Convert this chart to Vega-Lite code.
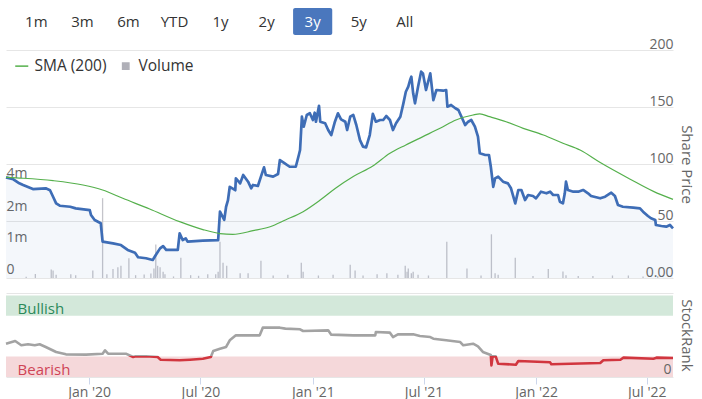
{
  "$schema": "https://vega.github.io/schema/vega-lite/v6.json",
  "padding": {"left": 3, "top": 8, "right": 32, "bottom": 0},
  "autosize": {"type": "pad"},
  "background": "white",
  "bounds": "flush",
  "spacing": 15,
  "resolve": {"scale": {"color": "independent", "x": "independent", "y": "independent"}},
  "config": {"view": {"stroke": null}, "font": "Open Sans"},
  "datasets": {
    "buttons": [
      {"label": "1m", "state": "off"}, {"label": "3m", "state": "off"}, {"label": "6m", "state": "off"},
      {"label": "YTD", "state": "off"}, {"label": "1y", "state": "off"}, {"label": "2y", "state": "off"},
      {"label": "3y", "state": "on"}, {"label": "5y", "state": "off"}, {"label": "All", "state": "off"}
    ],
    "pricedata": [
      {"date": "2019-08-18", "price": 88.3}, {"date": "2019-08-30", "price": 86.6}, {"date": "2019-09-07", "price": 83.6},
      {"date": "2019-09-15", "price": 81.6}, {"date": "2019-10-01", "price": 78.0}, {"date": "2019-10-22", "price": 78.7},
      {"date": "2019-10-29", "price": 77.0}, {"date": "2019-11-03", "price": 71.3}, {"date": "2019-11-08", "price": 65.5},
      {"date": "2019-11-14", "price": 63.4}, {"date": "2019-12-01", "price": 62.5}, {"date": "2019-12-10", "price": 61.1},
      {"date": "2020-01-02", "price": 59.6}, {"date": "2020-01-04", "price": 55.3}, {"date": "2020-01-10", "price": 50.9},
      {"date": "2020-01-20", "price": 48.0}, {"date": "2020-01-23", "price": 31.9}, {"date": "2020-02-09", "price": 30.4},
      {"date": "2020-02-22", "price": 28.9}, {"date": "2020-03-04", "price": 24.6}, {"date": "2020-03-16", "price": 22.2},
      {"date": "2020-03-21", "price": 18.2}, {"date": "2020-04-03", "price": 17.3}, {"date": "2020-04-14", "price": 15.8},
      {"date": "2020-04-19", "price": 20.2}, {"date": "2020-04-26", "price": 26.0}, {"date": "2020-05-01", "price": 28.0},
      {"date": "2020-05-06", "price": 24.6}, {"date": "2020-05-25", "price": 24.6}, {"date": "2020-05-28", "price": 39.2},
      {"date": "2020-06-02", "price": 33.3}, {"date": "2020-06-07", "price": 34.8}, {"date": "2020-06-10", "price": 31.9},
      {"date": "2020-07-05", "price": 32.7}, {"date": "2020-07-30", "price": 33.3}, {"date": "2020-08-02", "price": 58.2},
      {"date": "2020-08-09", "price": 51.0}, {"date": "2020-08-12", "price": 62.5}, {"date": "2020-08-15", "price": 68.0},
      {"date": "2020-08-18", "price": 80.0}, {"date": "2020-08-27", "price": 77.0}, {"date": "2020-08-28", "price": 87.4},
      {"date": "2020-09-04", "price": 83.0}, {"date": "2020-09-09", "price": 90.4}, {"date": "2020-09-17", "price": 84.5},
      {"date": "2020-09-22", "price": 78.7}, {"date": "2020-09-25", "price": 81.6}, {"date": "2020-10-03", "price": 80.7},
      {"date": "2020-10-08", "price": 88.9}, {"date": "2020-10-13", "price": 97.1}, {"date": "2020-10-16", "price": 90.4},
      {"date": "2020-10-28", "price": 88.9}, {"date": "2020-11-05", "price": 91.2}, {"date": "2020-11-08", "price": 103.5},
      {"date": "2020-11-16", "price": 100.6}, {"date": "2020-11-24", "price": 97.6}, {"date": "2020-12-04", "price": 97.6},
      {"date": "2020-12-09", "price": 107.9}, {"date": "2020-12-11", "price": 112.3}, {"date": "2020-12-14", "price": 141.5},
      {"date": "2020-12-17", "price": 132.7}, {"date": "2020-12-22", "price": 143.0}, {"date": "2020-12-27", "price": 144.5},
      {"date": "2021-01-01", "price": 138.6}, {"date": "2021-01-04", "price": 145.0}, {"date": "2021-01-06", "price": 137.1},
      {"date": "2021-01-11", "price": 151.1}, {"date": "2021-01-13", "price": 137.1}, {"date": "2021-01-21", "price": 135.7},
      {"date": "2021-01-26", "price": 129.8}, {"date": "2021-01-31", "price": 125.4}, {"date": "2021-02-06", "price": 137.1},
      {"date": "2021-02-11", "price": 144.5}, {"date": "2021-02-16", "price": 139.2}, {"date": "2021-02-23", "price": 137.1},
      {"date": "2021-02-26", "price": 129.8}, {"date": "2021-03-03", "price": 141.5}, {"date": "2021-03-08", "price": 143.0},
      {"date": "2021-03-13", "price": 134.2}, {"date": "2021-03-19", "price": 121.0}, {"date": "2021-03-24", "price": 115.2},
      {"date": "2021-03-29", "price": 114.6}, {"date": "2021-04-04", "price": 125.4}, {"date": "2021-04-09", "price": 144.0},
      {"date": "2021-04-14", "price": 137.1}, {"date": "2021-04-21", "price": 138.6}, {"date": "2021-04-26", "price": 138.6},
      {"date": "2021-05-01", "price": 142.1}, {"date": "2021-05-07", "price": 138.6}, {"date": "2021-05-12", "price": 129.8},
      {"date": "2021-05-17", "price": 135.7}, {"date": "2021-05-24", "price": 141.5}, {"date": "2021-05-29", "price": 153.2},
      {"date": "2021-06-02", "price": 163.4}, {"date": "2021-06-06", "price": 167.8}, {"date": "2021-06-09", "price": 173.7},
      {"date": "2021-06-11", "price": 176.6}, {"date": "2021-06-14", "price": 162.0}, {"date": "2021-06-17", "price": 153.2},
      {"date": "2021-06-22", "price": 167.8}, {"date": "2021-06-27", "price": 181.0}, {"date": "2021-06-30", "price": 179.5},
      {"date": "2021-07-05", "price": 164.9}, {"date": "2021-07-12", "price": 179.5}, {"date": "2021-07-17", "price": 156.1},
      {"date": "2021-07-22", "price": 164.9}, {"date": "2021-08-02", "price": 164.3}, {"date": "2021-08-07", "price": 164.9},
      {"date": "2021-08-09", "price": 150.3}, {"date": "2021-08-15", "price": 151.8}, {"date": "2021-08-22", "price": 148.9},
      {"date": "2021-08-27", "price": 147.4}, {"date": "2021-09-01", "price": 141.5}, {"date": "2021-09-07", "price": 134.2},
      {"date": "2021-09-12", "price": 137.1}, {"date": "2021-09-17", "price": 138.6}, {"date": "2021-09-23", "price": 132.7},
      {"date": "2021-09-28", "price": 124.0}, {"date": "2021-10-01", "price": 109.4}, {"date": "2021-10-10", "price": 107.9},
      {"date": "2021-10-16", "price": 107.9}, {"date": "2021-10-19", "price": 97.6}, {"date": "2021-10-23", "price": 80.0},
      {"date": "2021-10-26", "price": 87.4}, {"date": "2021-10-31", "price": 88.9}, {"date": "2021-11-08", "price": 84.5},
      {"date": "2021-11-16", "price": 83.0}, {"date": "2021-11-21", "price": 78.7}, {"date": "2021-11-28", "price": 65.5},
      {"date": "2021-12-03", "price": 77.2}, {"date": "2021-12-08", "price": 77.2}, {"date": "2021-12-14", "price": 68.4},
      {"date": "2021-12-19", "price": 72.8}, {"date": "2021-12-27", "price": 71.9}, {"date": "2022-01-01", "price": 69.9},
      {"date": "2022-01-09", "price": 75.7}, {"date": "2022-01-18", "price": 74.3}, {"date": "2022-01-24", "price": 75.7},
      {"date": "2022-01-29", "price": 72.8}, {"date": "2022-02-06", "price": 72.8}, {"date": "2022-02-09", "price": 66.9},
      {"date": "2022-02-14", "price": 65.5}, {"date": "2022-02-17", "price": 74.3}, {"date": "2022-02-19", "price": 84.5},
      {"date": "2022-02-22", "price": 77.2}, {"date": "2022-03-03", "price": 75.7}, {"date": "2022-03-11", "price": 75.7},
      {"date": "2022-03-19", "price": 77.2}, {"date": "2022-03-27", "price": 74.3}, {"date": "2022-04-01", "price": 71.9},
      {"date": "2022-04-16", "price": 69.9}, {"date": "2022-04-24", "price": 71.3}, {"date": "2022-05-04", "price": 74.8},
      {"date": "2022-05-10", "price": 71.9}, {"date": "2022-05-15", "price": 64.0}, {"date": "2022-05-23", "price": 62.5},
      {"date": "2022-06-09", "price": 61.7}, {"date": "2022-06-20", "price": 61.1}, {"date": "2022-06-25", "price": 58.2},
      {"date": "2022-07-03", "price": 54.4}, {"date": "2022-07-08", "price": 52.4}, {"date": "2022-07-15", "price": 50.9},
      {"date": "2022-07-16", "price": 46.5}, {"date": "2022-07-25", "price": 45.6}, {"date": "2022-08-02", "price": 45.0},
      {"date": "2022-08-08", "price": 46.5}, {"date": "2022-08-13", "price": 43.6}
    ],
    "smadata": [
      {"date": "2019-08-18", "sma": 88.3, "series": "SMA (200)"}, {"date": "2019-09-15", "sma": 87.5, "series": "SMA (200)"},
      {"date": "2019-11-03", "sma": 85.4, "series": "SMA (200)"}, {"date": "2019-12-22", "sma": 81.6, "series": "SMA (200)"},
      {"date": "2020-01-23", "sma": 77.2, "series": "SMA (200)"}, {"date": "2020-02-25", "sma": 69.9, "series": "SMA (200)"},
      {"date": "2020-04-09", "sma": 60.5, "series": "SMA (200)"}, {"date": "2020-05-28", "sma": 49.4, "series": "SMA (200)"},
      {"date": "2020-07-05", "sma": 42.5, "series": "SMA (200)"}, {"date": "2020-08-02", "sma": 39.0, "series": "SMA (200)"},
      {"date": "2020-08-23", "sma": 38.3, "series": "SMA (200)"}, {"date": "2020-09-25", "sma": 41.5, "series": "SMA (200)"},
      {"date": "2020-10-23", "sma": 45.0, "series": "SMA (200)"}, {"date": "2020-11-17", "sma": 50.9, "series": "SMA (200)"},
      {"date": "2020-12-16", "sma": 58.2, "series": "SMA (200)"}, {"date": "2021-01-13", "sma": 68.4, "series": "SMA (200)"},
      {"date": "2021-02-07", "sma": 78.7, "series": "SMA (200)"}, {"date": "2021-03-08", "sma": 89.0, "series": "SMA (200)"},
      {"date": "2021-04-09", "sma": 98.2, "series": "SMA (200)"}, {"date": "2021-05-07", "sma": 109.4, "series": "SMA (200)"},
      {"date": "2021-06-02", "sma": 116.7, "series": "SMA (200)"}, {"date": "2021-06-30", "sma": 124.0, "series": "SMA (200)"},
      {"date": "2021-07-28", "sma": 131.3, "series": "SMA (200)"}, {"date": "2021-08-23", "sma": 138.6, "series": "SMA (200)"},
      {"date": "2021-09-20", "sma": 143.0, "series": "SMA (200)"}, {"date": "2021-10-01", "sma": 143.9, "series": "SMA (200)"},
      {"date": "2021-10-17", "sma": 141.5, "series": "SMA (200)"}, {"date": "2021-11-13", "sma": 137.1, "series": "SMA (200)"},
      {"date": "2021-12-11", "sma": 131.3, "series": "SMA (200)"}, {"date": "2022-01-13", "sma": 125.4, "series": "SMA (200)"},
      {"date": "2022-02-14", "sma": 118.2, "series": "SMA (200)"}, {"date": "2022-03-14", "sma": 112.3, "series": "SMA (200)"},
      {"date": "2022-04-16", "sma": 101.3, "series": "SMA (200)"}, {"date": "2022-06-04", "sma": 86.7, "series": "SMA (200)"},
      {"date": "2022-07-12", "sma": 76.0, "series": "SMA (200)"}, {"date": "2022-08-13", "sma": 69.0, "series": "SMA (200)"}
    ],
    "volumedata": [
      {"date": "2019-09-20", "volume": 40000}, {"date": "2019-10-05", "volume": 130000}, {"date": "2019-10-31", "volume": 270000},
      {"date": "2019-11-03", "volume": 240000}, {"date": "2019-11-08", "volume": 100000}, {"date": "2019-12-02", "volume": 120000},
      {"date": "2019-12-10", "volume": 90000}, {"date": "2020-01-07", "volume": 240000}, {"date": "2020-01-23", "volume": 3050000},
      {"date": "2020-01-30", "volume": 120000}, {"date": "2020-02-09", "volume": 290000}, {"date": "2020-02-17", "volume": 340000},
      {"date": "2020-02-22", "volume": 390000}, {"date": "2020-03-06", "volume": 630000}, {"date": "2020-03-17", "volume": 90000},
      {"date": "2020-03-31", "volume": 110000}, {"date": "2020-04-11", "volume": 140000}, {"date": "2020-04-16", "volume": 300000},
      {"date": "2020-04-19", "volume": 1070000}, {"date": "2020-04-22", "volume": 390000}, {"date": "2020-04-26", "volume": 340000},
      {"date": "2020-05-01", "volume": 200000}, {"date": "2020-05-04", "volume": 120000}, {"date": "2020-05-18", "volume": 50000},
      {"date": "2020-05-30", "volume": 650000}, {"date": "2020-06-15", "volume": 90000}, {"date": "2020-06-28", "volume": 70000},
      {"date": "2020-07-13", "volume": 120000}, {"date": "2020-07-26", "volume": 120000}, {"date": "2020-07-30", "volume": 200000},
      {"date": "2020-08-02", "volume": 1160000}, {"date": "2020-08-07", "volume": 490000}, {"date": "2020-08-13", "volume": 390000},
      {"date": "2020-09-04", "volume": 150000}, {"date": "2020-09-17", "volume": 150000}, {"date": "2020-10-08", "volume": 550000},
      {"date": "2020-10-28", "volume": 80000}, {"date": "2020-11-21", "volume": 100000}, {"date": "2020-12-13", "volume": 490000},
      {"date": "2020-12-16", "volume": 200000}, {"date": "2021-01-10", "volume": 80000}, {"date": "2021-02-03", "volume": 100000},
      {"date": "2021-03-03", "volume": 420000}, {"date": "2021-03-11", "volume": 240000}, {"date": "2021-03-24", "volume": 80000},
      {"date": "2021-04-16", "volume": 120000}, {"date": "2021-05-02", "volume": 150000}, {"date": "2021-05-20", "volume": 100000},
      {"date": "2021-06-01", "volume": 390000}, {"date": "2021-06-04", "volume": 200000}, {"date": "2021-06-06", "volume": 300000},
      {"date": "2021-06-11", "volume": 150000}, {"date": "2021-06-14", "volume": 200000}, {"date": "2021-06-22", "volume": 100000},
      {"date": "2021-07-09", "volume": 80000}, {"date": "2021-08-08", "volume": 1160000}, {"date": "2021-09-10", "volume": 300000},
      {"date": "2021-10-03", "volume": 80000}, {"date": "2021-10-20", "volume": 1400000}, {"date": "2021-10-26", "volume": 150000},
      {"date": "2021-10-31", "volume": 100000}, {"date": "2021-11-28", "volume": 650000}, {"date": "2021-12-27", "volume": 60000},
      {"date": "2022-01-21", "volume": 290000}, {"date": "2022-02-14", "volume": 210000}, {"date": "2022-02-19", "volume": 90000},
      {"date": "2022-03-11", "volume": 60000}, {"date": "2022-04-04", "volume": 60000}, {"date": "2022-05-06", "volume": 80000},
      {"date": "2022-06-01", "volume": 80000}, {"date": "2022-06-25", "volume": 50000}, {"date": "2022-07-19", "volume": 60000}
    ],
    "rankdata": [
      {"date": "2019-08-18", "rank": 40.8}, {"date": "2019-09-02", "rank": 44.1}, {"date": "2019-09-12", "rank": 38.9},
      {"date": "2019-09-23", "rank": 40.1}, {"date": "2019-10-04", "rank": 38.9}, {"date": "2019-10-12", "rank": 40.1},
      {"date": "2019-10-22", "rank": 36.8}, {"date": "2019-11-08", "rank": 30.7}, {"date": "2019-11-24", "rank": 27.8},
      {"date": "2019-12-27", "rank": 27.4}, {"date": "2020-01-23", "rank": 28.6}, {"date": "2020-01-27", "rank": 32.7},
      {"date": "2020-02-01", "rank": 28.6}, {"date": "2020-03-01", "rank": 28.6}, {"date": "2020-03-13", "rank": 24.5},
      {"date": "2020-03-17", "rank": 25.3}, {"date": "2020-04-03", "rank": 25.5}, {"date": "2020-04-22", "rank": 24.5},
      {"date": "2020-04-27", "rank": 21.2}, {"date": "2020-05-28", "rank": 20.5}, {"date": "2020-06-14", "rank": 21.2},
      {"date": "2020-07-05", "rank": 22.4}, {"date": "2020-07-18", "rank": 24.5}, {"date": "2020-07-22", "rank": 31.9},
      {"date": "2020-08-02", "rank": 34.7}, {"date": "2020-08-12", "rank": 36.8}, {"date": "2020-08-18", "rank": 45.0},
      {"date": "2020-08-28", "rank": 51.1}, {"date": "2020-10-06", "rank": 51.1}, {"date": "2020-10-11", "rank": 60.5},
      {"date": "2020-11-08", "rank": 60.5}, {"date": "2020-11-17", "rank": 59.3}, {"date": "2020-12-11", "rank": 58.5},
      {"date": "2020-12-16", "rank": 56.4}, {"date": "2021-01-26", "rank": 57.2}, {"date": "2021-01-31", "rank": 51.9},
      {"date": "2021-03-08", "rank": 51.1}, {"date": "2021-04-13", "rank": 51.1}, {"date": "2021-04-14", "rank": 55.2},
      {"date": "2021-05-07", "rank": 54.4}, {"date": "2021-05-12", "rank": 49.0}, {"date": "2021-05-20", "rank": 52.3},
      {"date": "2021-06-14", "rank": 52.3}, {"date": "2021-06-25", "rank": 50.3}, {"date": "2021-07-12", "rank": 49.0},
      {"date": "2021-07-17", "rank": 47.0}, {"date": "2021-08-07", "rank": 45.0}, {"date": "2021-08-30", "rank": 42.9},
      {"date": "2021-09-04", "rank": 38.9}, {"date": "2021-09-20", "rank": 40.8}, {"date": "2021-09-28", "rank": 37.6},
      {"date": "2021-10-06", "rank": 30.7}, {"date": "2021-10-19", "rank": 27.0}, {"date": "2021-10-20", "rank": 14.3},
      {"date": "2021-10-22", "rank": 25.5}, {"date": "2021-10-27", "rank": 25.3}, {"date": "2021-10-31", "rank": 16.3},
      {"date": "2021-11-29", "rank": 15.1}, {"date": "2021-12-03", "rank": 19.6}, {"date": "2022-01-24", "rank": 18.0},
      {"date": "2022-01-26", "rank": 15.6}, {"date": "2022-04-16", "rank": 17.2}, {"date": "2022-04-21", "rank": 20.5},
      {"date": "2022-05-19", "rank": 21.2}, {"date": "2022-05-24", "rank": 23.7}, {"date": "2022-07-12", "rank": 22.4},
      {"date": "2022-07-17", "rank": 23.7}, {"date": "2022-08-13", "rank": 23.3}
    ],
    "bands": [
      {"zone": "Bullish", "lo": 75, "hi": 100},
      {"zone": "Bearish", "lo": 0, "hi": 25}
    ]
  },
  "vconcat": [
    {
      "width": 667,
      "height": 27,
      "data": {"name": "buttons"},
      "layer": [
        {
          "transform": [{"filter": "datum.state === 'on'"}],
          "mark": {"type": "rect", "cornerRadius": 2, "color": "#4a77bd"},
          "encoding": {
            "x": {"field": "label", "type": "nominal", "sort": null, "axis": null,
                  "scale": {"type": "band", "domain": ["1m", "3m", "6m", "YTD", "1y", "2y", "3y", "5y", "All"], "range": [7.3, 421.8], "paddingInner": 0.15, "paddingOuter": 0.075}}
          }
        },
        {
          "mark": {"type": "text", "font": "Open Sans", "fontSize": 15},
          "encoding": {
            "x": {"field": "label", "type": "nominal", "sort": null, "axis": null,
                  "scale": {"type": "band", "domain": ["1m", "3m", "6m", "YTD", "1y", "2y", "3y", "5y", "All"], "range": [7.3, 421.8], "paddingInner": 0.15, "paddingOuter": 0.075}},
            "text": {"field": "label"},
            "color": {"field": "state", "type": "nominal", "scale": {"domain": ["off", "on"], "range": ["#333333", "#ffffff"]}, "legend": null}
          }
        }
      ]
    },
    {
      "width": 667,
      "height": 228,
      "layer": [
        {
          "data": {"name": "volumedata"},
          "mark": {"type": "bar", "color": "#c4c4ca", "width": 1.3},
          "encoding": {
            "x": {"field": "date", "type": "temporal", "axis": null,
                  "scale": {"type": "utc", "domain": [{"year": 2019, "month": 8, "date": 18, "utc": true}, {"year": 2022, "month": 8, "date": 13, "utc": true}], "nice": false, "padding": 0}},
            "y": {"field": "volume", "type": "quantitative",
                  "scale": {"domain": [0, 1000000, 2000000, 4000000], "range": [228, 196.7, 165.7, 132.3], "nice": false, "zero": true},
                  "axis": {"orient": "left", "values": [0, 1000000, 2000000, 4000000],
                           "labelExpr": "datum.value === 0 ? '0' : (datum.value / 1000000) + 'm'",
                           "title": null, "grid": false, "domain": false, "ticks": false, "tickSize": 0,
                           "labelAlign": "left", "labelPadding": 0, "labelBaseline": "alphabetic", "labelOffset": -5,
                           "labelFont": "Open Sans", "labelFontSize": 14, "labelColor": "#666666"}}
          }
        },
        {
          "data": {"name": "pricedata"},
          "mark": {"type": "area", "color": "#4070b8", "opacity": 0.06},
          "encoding": {
            "x": {"field": "date", "type": "temporal", "axis": null},
            "y": {"field": "price", "type": "quantitative", "stack": null,
                  "scale": {"domain": [0, 200], "nice": false},
                  "axis": {"orient": "right", "values": [0, 50, 100, 150, 200],
                           "labelExpr": "datum.value === 0 ? '0.00' : datum.label",
                           "title": "Share Price", "grid": true, "gridColor": "#e6e6e6", "domain": false,
                           "ticks": false, "tickSize": 0, "labelAlign": "right", "labelPadding": 0,
                           "labelBaseline": "alphabetic", "labelOffset": -2,
                           "labelFont": "Open Sans", "labelFontSize": 14, "labelColor": "#666666",
                           "titleFont": "Open Sans", "titleFontSize": 15, "titleFontWeight": "normal",
                           "titleColor": "#666666", "titlePadding": 5}}
          }
        },
        {
          "data": {"name": "pricedata"},
          "mark": {"type": "line", "color": "#3e6db6", "strokeWidth": 2.7, "strokeJoin": "round"},
          "encoding": {
            "x": {"field": "date", "type": "temporal", "axis": null},
            "y": {"field": "price", "type": "quantitative", "scale": {"domain": [0, 200], "nice": false}, "axis": null}
          }
        },
        {
          "data": {"name": "smadata"},
          "mark": {"type": "line", "strokeWidth": 1.2, "interpolate": "monotone"},
          "encoding": {
            "x": {"field": "date", "type": "temporal", "axis": null},
            "y": {"field": "sma", "type": "quantitative", "scale": {"domain": [0, 200], "nice": false}, "axis": null},
            "color": {"field": "series", "type": "nominal",
                      "scale": {"domain": ["SMA (200)", "Volume"], "range": ["#55b04c", "#b0b0b8"]},
                      "legend": {"orient": "top-left", "direction": "horizontal", "offset": 8, "title": null, "padding": 0,
                                 "labelFont": "Open Sans", "labelFontSize": 15.5, "labelColor": "#333333",
                                 "columnPadding": 11, "labelOffset": 5, "symbolStrokeWidth": 1.5,
                                 "encode": {"symbols": {"update": {
                                   "shape": {"signal": "datum.value === 'SMA (200)' ? 'stroke' : 'square'"},
                                   "size": {"signal": "datum.value === 'SMA (200)' ? 170 : 40"},
                                   "fill": {"signal": "datum.value === 'SMA (200)' ? 'transparent' : '#b0b0b8'"},
                                   "stroke": {"signal": "datum.value === 'SMA (200)' ? '#55b04c' : 'transparent'"}
                                 }}}}}
          }
        }
      ],
      "resolve": {"scale": {"y": "independent"}}
    },
    {
      "width": 667,
      "height": 84,
      "layer": [
        {
          "data": {"name": "bands"},
          "mark": {"type": "rect"},
          "encoding": {
            "y": {"field": "hi", "type": "quantitative", "title": "StockRank",
                  "scale": {"domain": [0, 103], "nice": false, "zero": false},
                  "axis": {"orient": "right", "values": [0, 103],
                           "labelExpr": "datum.value === 0 ? '0' : ''",
                           "title": "StockRank", "grid": true, "gridColor": "#e6e6e6", "domain": false,
                           "ticks": false, "tickSize": 0, "labelAlign": "right", "labelPadding": -2,
                           "labelBaseline": "alphabetic", "labelOffset": -4, "zindex": 1,
                           "labelFont": "Open Sans", "labelFontSize": 14, "labelColor": "#666666",
                           "titleFont": "Open Sans", "titleFontSize": 15, "titleFontWeight": "normal",
                           "titleColor": "#666666", "titlePadding": 5}},
            "y2": {"field": "lo"},
            "color": {"field": "zone", "type": "nominal", "legend": null,
                      "scale": {"domain": ["Bullish", "Bearish"], "range": ["#d3e8da", "#f5d8da"]}}
          }
        },
        {
          "data": {"name": "rankdata"},
          "mark": {"type": "line", "strokeWidth": 2.6, "strokeJoin": "round",
                   "stroke": {"gradient": "linear", "x1": 0, "y1": 0, "x2": 0, "y2": 1,
                              "stops": [{"offset": 0, "color": "#a3a3a3"}, {"offset": 0.7468, "color": "#a3a3a3"},
                                        {"offset": 0.7468, "color": "#d1363f"}, {"offset": 1, "color": "#d1363f"}]}},
          "encoding": {
            "x": {"field": "date", "type": "temporal",
                  "scale": {"type": "utc", "domain": [{"year": 2019, "month": 8, "date": 18, "utc": true}, {"year": 2022, "month": 8, "date": 13, "utc": true}], "nice": false, "padding": 0},
                  "axis": {"title": null, "format": "%b '%y", "grid": false, "domain": false,
                           "values": [{"year": 2020, "month": 1, "date": 1, "utc": true}, {"year": 2020, "month": 7, "date": 1, "utc": true},
                                      {"year": 2021, "month": 1, "date": 1, "utc": true}, {"year": 2021, "month": 7, "date": 1, "utc": true},
                                      {"year": 2022, "month": 1, "date": 1, "utc": true}, {"year": 2022, "month": 7, "date": 1, "utc": true}],
                           "ticks": true, "tickSize": 7, "tickColor": "#ccd6eb", "labelPadding": 1,
                           "labelFont": "Open Sans", "labelFontSize": 14, "labelColor": "#666666"}},
            "y": {"field": "rank", "type": "quantitative", "title": "StockRank"}
          }
        },
        {
          "data": {"name": "bands"},
          "mark": {"type": "text", "align": "left", "baseline": "alphabetic", "dy": -2, "font": "Open Sans", "fontSize": 15},
          "encoding": {
            "x": {"datum": {"year": 2019, "month": 9, "date": 6, "utc": true}, "type": "temporal"},
            "y": {"field": "lo", "type": "quantitative", "title": "StockRank"},
            "text": {"field": "zone"},
            "color": {"field": "zone", "type": "nominal", "legend": null,
                      "scale": {"domain": ["Bullish", "Bearish"], "range": ["#2b8a5a", "#cf4456"]}}
          }
        }
      ],
      "resolve": {"scale": {"color": "independent"}}
    }
  ]
}
